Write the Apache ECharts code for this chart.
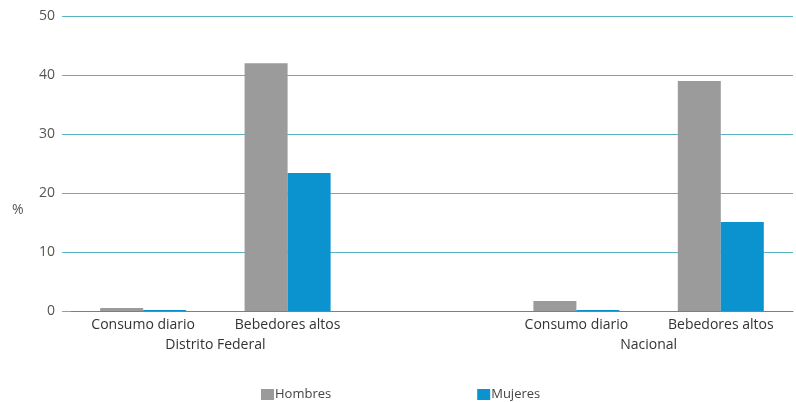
<!DOCTYPE html>
<html>
<head>
<meta charset="utf-8">
<script src="https://cdn.jsdelivr.net/npm/echarts@6/dist/echarts.min.js"></script>
<style>html,body{margin:0;padding:0;background:#fff}#c{width:796px;height:402px}</style>
</head>
<body>
<div id="c"></div>
<script>
var categories = ['Consumo diario', 'Bebedores altos', '', 'Consumo diario', 'Bebedores altos'];
var groups = ['Distrito Federal', 'Nacional'];
var groupPositions = [1, 4];
var hombres = [0.5, 42, null, 1.7, 39];
var mujeres = [0.15, 23.4, null, 0.15, 15.1];
var yTicks = [0, 10, 20, 30, 40, 50];

var font = '"Open Sans", sans-serif';
var chart = echarts.init(document.getElementById('c'));
chart.setOption({
  animation: false,
  grid: {left: 71, right: 0, top: 16, bottom: 91},
  legend: {
    data: ['Hombres', 'Mujeres'],
    top: 383, left: 256,
    itemWidth: 13, itemHeight: 11, itemGap: 146,
    icon: 'rect',
    textStyle: {fontFamily: font, fontSize: 13, color: '#444', padding: [0, 0, 0, -4]}
  },
  graphic: [{type: 'text', left: 12, top: 203, style: {text: '%', fontFamily: font, fontSize: 14, fill: '#555'}}],
  xAxis: [{
    type: 'category', data: categories,
    axisLine: {lineStyle: {color: '#3c9aa8', width: 1}},
    axisTick: {show: false},
    axisLabel: {fontFamily: font, fontSize: 14, color: '#333', margin: 7, interval: 0}
  }, {
    type: 'value', position: 'bottom', min: 0, max: 5, interval: 1,
    offset: 20,
    axisLine: {show: false}, axisTick: {show: false}, splitLine: {show: false},
    axisLabel: {fontFamily: font, fontSize: 14, color: '#333', margin: 7,
      formatter: function (v) { var i = groupPositions.indexOf(v); return i >= 0 ? groups[i] : ''; }}
  }],
  yAxis: {
    type: 'value', min: 0, max: 50, interval: 10,
    axisLine: {show: false},
    axisTick: {show: true, length: 9, lineStyle: {color: '#5ab4c5'}},
    axisLabel: {fontFamily: font, fontSize: 14, color: '#555', margin: 16,
      formatter: function (v) { return yTicks.indexOf(v) >= 0 ? String(v) : ''; }},
    splitLine: {lineStyle: {color: '#5ab4c5', width: 1}}
  },
  series: [{
    name: 'Hombres', type: 'bar', data: hombres, barWidth: 43, barGap: '0%',
    itemStyle: {color: '#9b9b9b'}
  }, {
    name: 'Mujeres', type: 'bar', data: mujeres, barWidth: 43,
    itemStyle: {color: '#0b93cf'}
  }]
});
</script>
</body>
</html>
